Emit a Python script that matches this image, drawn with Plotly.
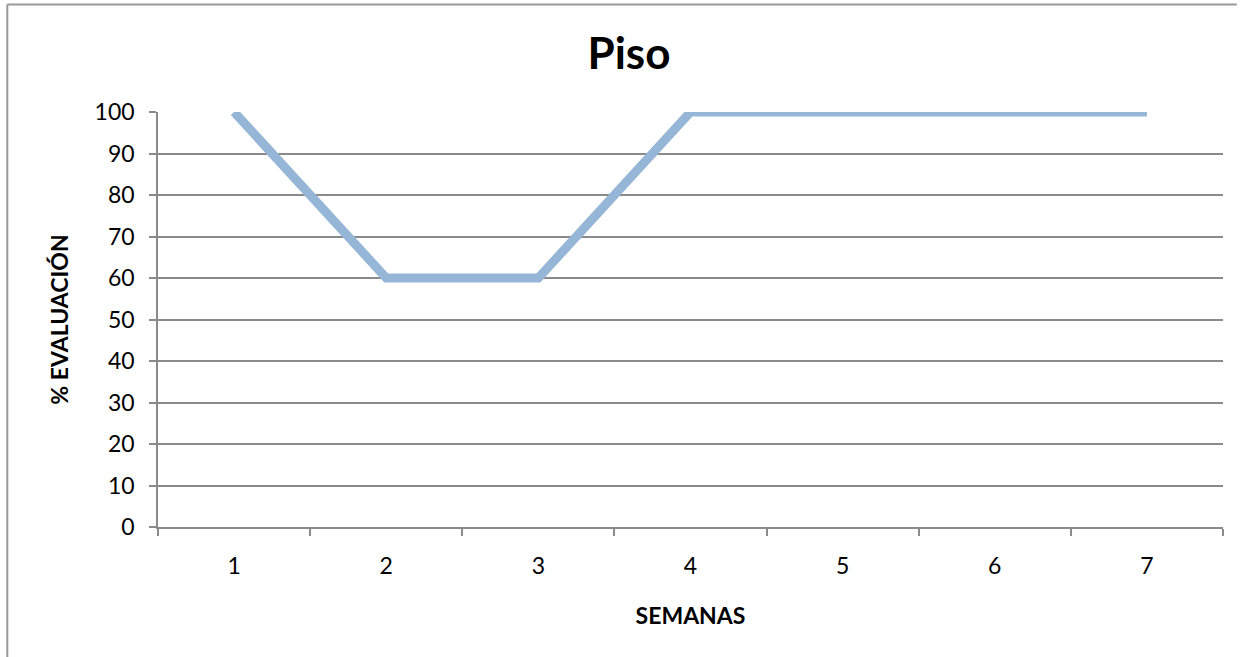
import plotly.graph_objects as go

semanas = ["1", "2", "3", "4", "5", "6", "7"]
evaluacion = [100, 60, 60, 100, 100, 100, 100]
y_ticks = [0, 10, 20, 30, 40, 50, 60, 70, 80, 90, 100]

FONT = "Lato"
GRID = "#8a8a8a"

fig = go.Figure()
fig.add_trace(go.Scatter(
    x=semanas, y=evaluacion, mode="lines",
    line=dict(color="#95B6D6", width=9),
    hoverinfo="skip", showlegend=False,
))

fig.update_layout(
    width=1248, height=657,
    margin=dict(l=158, r=25, t=112, b=130),
    paper_bgcolor="white", plot_bgcolor="white",
    font=dict(family=FONT, color="black"),
    title=dict(text="<b>Piso</b>", x=0.504, xanchor="center", y=0.918, yanchor="middle",
               font=dict(family=FONT, size=44, color="black")),
    xaxis=dict(
        type="category", range=[-0.5, 6.5],
        tickmode="array", tickvals=semanas, ticktext=semanas,
        tickson="boundaries", ticks="outside", ticklen=7, tickcolor=GRID, tickwidth=1.5,
        showline=True, linecolor=GRID, linewidth=1.5,
        showgrid=False, zeroline=False,
        tickfont=dict(family=FONT, size=23, color="black"),
        ticklabelstandoff=18,
        title=dict(text="<b>SEMANAS</b>", font=dict(family=FONT, size=23, color="black"), standoff=30),
    ),
    yaxis=dict(
        range=[0, 100], tickmode="array", tickvals=y_ticks,
        ticks="outside", ticklen=7, tickcolor=GRID, tickwidth=1.5,
        showline=True, linecolor=GRID, linewidth=1.5,
        showgrid=True, gridcolor=GRID, gridwidth=1.5, zeroline=False,
        tickfont=dict(family=FONT, size=23, color="black"),
        ticklabelstandoff=10,
        title=dict(text="<b>% EVALUACIÓN</b>", font=dict(family=FONT, size=23, color="black"), standoff=20),
    ),
    shapes=[
        dict(type="line", xref="paper", yref="paper", x0=-0.1415, x1=1.013, y0=1.259, y1=1.259,
             line=dict(color="#999999", width=2)),
        dict(type="line", xref="paper", yref="paper", x0=-0.1415, x1=-0.1415, y0=1.259, y1=-0.32,
             line=dict(color="#999999", width=2)),
    ],
)

fig.write_html("out.html")
